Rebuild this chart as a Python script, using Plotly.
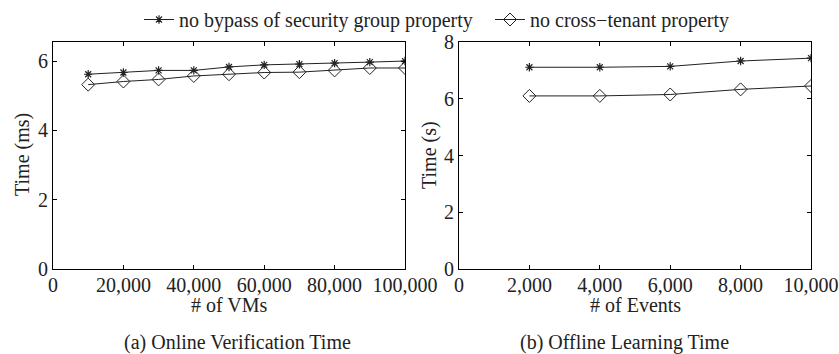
import plotly.graph_objects as go

# ---- data ----
vms = [10000, 20000, 30000, 40000, 50000, 60000, 70000, 80000, 90000, 100000]
online_bypass = [5.62, 5.67, 5.73, 5.73, 5.83, 5.89, 5.91, 5.94, 5.97, 6.0]
online_cross = [5.32, 5.41, 5.47, 5.57, 5.62, 5.67, 5.68, 5.73, 5.8, 5.8]

events = [2000, 4000, 6000, 8000, 10000]
offline_bypass = [7.11, 7.11, 7.14, 7.33, 7.43]
offline_cross = [6.1, 6.1, 6.15, 6.33, 6.45]

series_names = ["no bypass of security group property", "no cross\u2212tenant property"]
x_ticks_a = [0, 20000, 40000, 60000, 80000, 100000]
x_ticks_b = [0, 2000, 4000, 6000, 8000, 10000]
y_ticks_a = [0, 2, 4, 6]
y_ticks_b = [0, 2, 4, 6, 8]

FONT = "Liberation Serif, Times New Roman, serif"
FS = 20
W, H = 839, 354
LC = "#222222"

fig = go.Figure()

star = dict(symbol="asterisk-open", size=7, color=LC, line=dict(color=LC, width=1.2))
diam = dict(symbol="diamond-open", size=10, color=LC, line=dict(color=LC, width=1))

fig.add_trace(go.Scatter(x=vms, y=online_bypass, mode="lines+markers", name=series_names[0],
                         line=dict(color=LC, width=1), marker=star, xaxis="x", yaxis="y",
                         legend="legend"))
fig.add_trace(go.Scatter(x=vms, y=online_cross, mode="lines+markers", name=series_names[1],
                         line=dict(color=LC, width=1), marker=diam, xaxis="x", yaxis="y",
                         legend="legend2"))
fig.add_trace(go.Scatter(x=events, y=offline_bypass, mode="lines+markers", showlegend=False,
                         line=dict(color=LC, width=1), marker=star, xaxis="x2", yaxis="y2"))
fig.add_trace(go.Scatter(x=events, y=offline_cross, mode="lines+markers", showlegend=False,
                         line=dict(color=LC, width=1), marker=diam, xaxis="x2", yaxis="y2"))

ydom = [(H - 269) / H, (H - 42) / H]
xdom_a = [53 / W, 405 / W]
xdom_b = [459 / W, 811 / W]

axis_common = dict(showline=True, linecolor="black", linewidth=1.2, mirror="ticks",
                   ticks="inside", ticklen=4, tickcolor="black", showgrid=False,
                   zeroline=False, automargin=False,
                   tickfont=dict(family=FONT, size=FS, color="#222"))

def fmt(v):
    return f"{v:,}"

leg_common = dict(orientation="h", xanchor="left", y=1.0, yanchor="top",
                  font=dict(family=FONT, size=FS, color="#222"), bgcolor="rgba(0,0,0,0)")

fig.update_layout(
    width=W, height=H,
    margin=dict(l=0, r=0, t=0, b=0, autoexpand=False),
    paper_bgcolor="white", plot_bgcolor="white",
    font=dict(family=FONT, size=FS, color="#222"),
    xaxis=dict(domain=xdom_a, range=[0, 100000], tickvals=x_ticks_a,
               ticktext=[fmt(v) for v in x_ticks_a], anchor="y", ticklabelstandoff=-2, **axis_common),
    yaxis=dict(domain=ydom, range=[0, 6.55], tickvals=y_ticks_a, anchor="x", ticklabelstandoff=0, **axis_common),
    xaxis2=dict(domain=xdom_b, range=[0, 10000], tickvals=x_ticks_b,
                ticktext=[fmt(v) for v in x_ticks_b], anchor="y2", ticklabelstandoff=-2, **axis_common),
    yaxis2=dict(domain=ydom, range=[0, 8], tickvals=y_ticks_b, anchor="x2", ticklabelstandoff=0, **axis_common),
    legend=dict(x=139 / W, **leg_common),
    legend2=dict(x=490 / W, **leg_common),
    showlegend=True,
)

ann = []
ann.append(dict(text="# of VMs", x=229 / W, y=1 - 305 / H, xref="paper", yref="paper",
                showarrow=False, xanchor="center", yanchor="middle", font=dict(size=FS)))
ann.append(dict(text="# of Events", x=635 / W, y=1 - 305 / H, xref="paper", yref="paper",
                showarrow=False, xanchor="center", yanchor="middle", font=dict(size=FS)))
ann.append(dict(text="Time (ms)", x=22 / W, y=1 - 155 / H, xref="paper", yref="paper",
                showarrow=False, xanchor="center", yanchor="middle", textangle=-90, font=dict(size=FS)))
ann.append(dict(text="Time (s)", x=429 / W, y=1 - 155 / H, xref="paper", yref="paper",
                showarrow=False, xanchor="center", yanchor="middle", textangle=-90, font=dict(size=FS)))
ann.append(dict(text="(a) Online Verification Time", x=237 / W, y=1 - 342 / H, xref="paper", yref="paper",
                showarrow=False, xanchor="center", yanchor="middle", font=dict(size=FS)))
ann.append(dict(text="(b) Offline Learning Time", x=624 / W, y=1 - 342 / H, xref="paper", yref="paper",
                showarrow=False, xanchor="center", yanchor="middle", font=dict(size=FS)))
fig.update_layout(annotations=ann)

fig.write_html("out.html", config={"displayModeBar": False},
               post_script="document.body.style.margin='0px';")
